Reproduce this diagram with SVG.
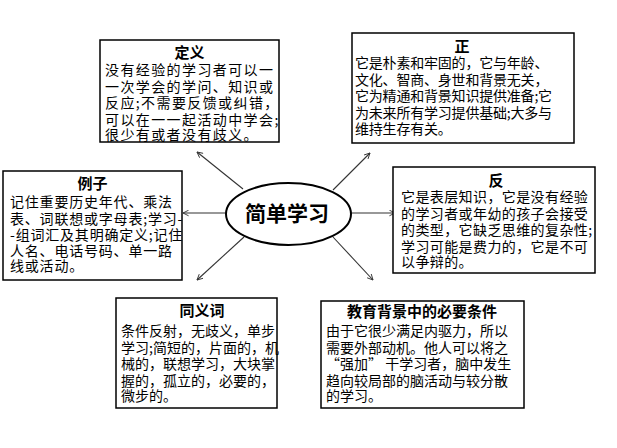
<svg xmlns="http://www.w3.org/2000/svg" width="617" height="448" viewBox="0 0 617 448">
<defs>
<style>
.box{fill:#fff;stroke:#000;stroke-width:1.5}
.t{font-family:"Noto Sans CJK SC","Noto Sans",sans-serif;fill:#000}
.title{font-weight:bold;text-anchor:middle;font-size:15px}
.conn{stroke:#333;stroke-width:1.1;fill:none;marker-end:url(#ah)}
</style>
<marker id="ah" viewBox="0 0 10 10" refX="9" refY="5" markerWidth="7" markerHeight="7" markerUnits="userSpaceOnUse" orient="auto">
<path d="M1,1 L9,5 L1,9" fill="none" stroke="#333" stroke-width="1.3"/>
</marker>
</defs>
<rect width="617" height="448" fill="#fff"/>
<g id="connectors">
<line class="conn" x1="243" y1="189" x2="197" y2="152"/>
<line class="conn" x1="333" y1="190" x2="370" y2="153"/>
<line class="conn" x1="226" y1="213" x2="183" y2="213"/>
<line class="conn" x1="351" y1="213" x2="395" y2="213"/>
<line class="conn" x1="244" y1="237" x2="197" y2="280"/>
<line class="conn" x1="333" y1="237" x2="373" y2="280"/>
</g>
<g id="center">
<ellipse cx="288.5" cy="214" rx="62.5" ry="31" fill="#fff" stroke="#000" stroke-width="2"/>
<text class="t" x="287" y="221" font-size="21" font-weight="bold" text-anchor="middle">简单学习</text>
</g>
<g id="definition">
<rect class="box" x="100" y="40" width="179" height="102"/>
<text class="t title" x="189.5" y="58">定义</text>
<g class="t" font-size="14" letter-spacing="1.4">
<text x="105" y="75">没有经验的学习者可以一</text>
<text x="105" y="91.5">一次学会的学问、知识或</text>
<text x="105" y="108">反应;不需要反馈或纠错，</text>
<text x="105" y="124.5">可以在一一起活动中学会;</text>
<text x="105" y="140">很少有或者没有歧义。</text>
</g>
</g>
<g id="pro">
<rect class="box" x="352" y="33" width="222" height="110"/>
<text class="t title" x="462" y="52">正</text>
<g class="t" font-size="14" letter-spacing="-0.2">
<text x="355" y="68">它是朴素和牢固的，它与年龄、</text>
<text x="355" y="84.5">文化、智商、身世和背景无关，</text>
<text x="355" y="101">它为精通和背景知识提供准备;它</text>
<text x="355" y="117.5">为未来所有学习提供基础;大多与</text>
<text x="355" y="134">维持生存有关。</text>
</g>
</g>
<g id="example">
<rect class="box" x="3" y="171" width="179" height="109"/>
<text class="t title" x="92.5" y="189">例子</text>
<g class="t" font-size="14" letter-spacing="0.8">
<text x="10" y="207">记住重要历史年代、乘法</text>
<text x="10" y="223.5">表、词联想或字母表;学习-</text>
<text x="10" y="240">-组词汇及其明确定义;记住</text>
<text x="10" y="256">人名、电话号码、单一路</text>
<text x="10" y="271">线或活动。</text>
</g>
</g>
<g id="con">
<rect class="box" x="393" y="167" width="202" height="106"/>
<text class="t title" x="496" y="186">反</text>
<g class="t" font-size="14" letter-spacing="0.4">
<text x="401" y="202">它是表层知识，它是没有经验</text>
<text x="401" y="218.5">的学习者或年幼的孩子会接受</text>
<text x="401" y="235">的类型，它缺乏思维的复杂性;</text>
<text x="401" y="251.5">学习可能是费力的，它是不可</text>
<text x="401" y="267">以争辩的。</text>
</g>
</g>
<g id="synonyms">
<rect class="box" x="116" y="298" width="161" height="110"/>
<text class="t title" x="202" y="316" font-size="16">同义词</text>
<g class="t" font-size="14">
<text x="121" y="336">条件反射，无歧义，单步</text>
<text x="121" y="352.5">学习;简短的，片面的，机</text>
<text x="121" y="369">械的，联想学习，大块掌</text>
<text x="121" y="385.5">握的，孤立的，必要的，</text>
<text x="121" y="401">微步的。</text>
</g>
</g>
<g id="conditions">
<rect class="box" x="321" y="301" width="203" height="107"/>
<text class="t title" x="422" y="317" font-size="14.5">教育背景中的必要条件</text>
<g class="t" font-size="14">
<text x="326" y="336">由于它很少满足内驱力，所以</text>
<text x="326" y="352.5">需要外部动机。他人可以将之</text>
<text x="326" y="369">“强加” 干学习者，脑中发生</text>
<text x="326" y="385.5">趋向较局部的脑活动与较分散</text>
<text x="326" y="401">的学习。</text>
</g>
</g>
</svg>
